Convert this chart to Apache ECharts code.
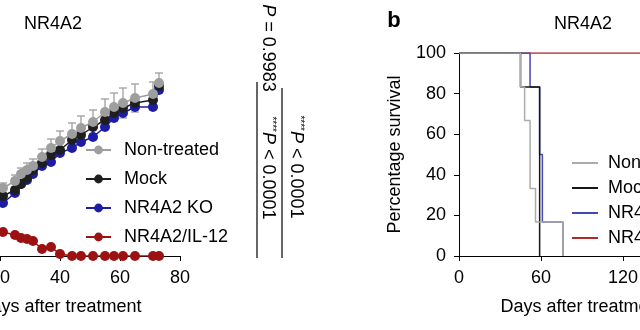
<!DOCTYPE html>
<html><head><meta charset="utf-8">
<script src="https://cdn.jsdelivr.net/npm/echarts@6/dist/echarts.min.js"></script>
<style>html,body{margin:0;padding:0;background:#fff;}#a,#b{position:absolute;left:0;top:0;width:640px;height:330px;}</style>
</head><body>
<div id="a"></div><div id="b"></div>
<script>
const FONT = "'Liberation Sans', Arial, Helvetica, sans-serif";
// ---- Panel a: tumour growth (days after treatment) ----
const seriesNames = ['Non-treated', 'Mock', 'NR4A2 KO', 'NR4A2/IL-12'];
const growthDays = [21, 25, 27, 29, 31, 34, 37, 40, 44, 47, 51, 55, 58, 61, 65, 71, 73];
const nonTreated = [680, 750, 820, 860, 900, 990, 1080, 1150, 1220, 1280, 1340, 1440, 1490, 1530, 1580, 1620, 1730];
const nonTreatedErr = [50, 60, 60, 70, 70, 80, 90, 100, 110, 120, 120, 130, 140, 150, 140, 120, 100];
const mock = [600, 660, 720, 780, 860, 930, 1010, 1060, 1160, 1210, 1290, 1360, 1430, 1480, 1530, 1560, 1700];
const nr4a2KO = [530, 630, 720, 760, 820, 900, 940, 1030, 1080, 1140, 1190, 1290, 1380, 1430, 1490, 1490, 1660];
const nr4a2IL12 = [240, 210, 180, 170, 150, 70, 90, 20, 0, 0, 0, 0, 0, 0, 0, 0, 0];
const growthXTicks = {min: 0, max: 80, interval: 20};
// ---- Panel b: survival (%) ----
const survNonTreated = [[0, 100], [45, 83.3], [48, 66.7], [52, 33.3], [56, 16.7], [76, 0]];
const survMock = [[0, 100], [45, 83.3], [59, 0]];
const survKO = [[0, 100], [52, 83.3], [59, 50], [61, 16.7], [76, 0]];
const survIL12 = [[0, 100], [180, 100]];
const survXTicks = {min: 0, max: 180, interval: 60};
const survYTicks = {min: 0, max: 100, interval: 20};

const colA = {nt: '#9e9e9e', mock: '#1e1e1e', ko: '#1c1ca4', il: '#9c1212'};
const colB = {nt: '#ababab', mock: '#161616', ko: '#4646b4', il: '#b02a2a'};
const txt = {color: '#000', fontFamily: FONT, fontSize: 18};

function pairs(ys) { return growthDays.map((d, i) => [d, ys[i]]); }
function lineSeries(name, ys, color) {
  return {type: 'line', name: name, data: pairs(ys), symbol: 'circle', symbolSize: 10,
    itemStyle: {color: color}, lineStyle: {color: color, width: 1.5}, animation: false};
}

const chartA = echarts.init(document.getElementById('a'), null, {renderer: 'canvas'});
chartA.setOption({
  animation: false,
  grid: {left: -60, right: 460, top: 56, bottom: 74, outerBoundsMode: 'none', containLabel: false},
  xAxis: {type: 'value', min: growthXTicks.min, max: growthXTicks.max, interval: growthXTicks.interval,
    name: 'Days after treatment', nameLocation: 'middle', nameGap: 42, nameTextStyle: txt,
    axisLine: {lineStyle: {color: '#000', width: 1}}, axisTick: {length: 5, lineStyle: {color: '#000'}},
    axisLabel: Object.assign({margin: 13}, txt), splitLine: {show: false}},
  yAxis: {type: 'value', min: 0, max: 2000, show: false, splitLine: {show: false}},
  legend: {orient: 'vertical', left: 85, top: 141, padding: 0, itemWidth: 25, itemHeight: 11, itemGap: 11,
    selectedMode: false, data: seriesNames, textStyle: Object.assign({padding: [0, 0, 0, 8]}, txt)},
  series: [
    lineSeries(seriesNames[2], nr4a2KO, colA.ko),
    lineSeries(seriesNames[1], mock, colA.mock),
    {type: 'custom', name: 'Non-treated SEM', data: growthDays.map((d, i) => [d, nonTreated[i], nonTreatedErr[i]]),
      encode: {x: 0, y: 1}, z: 3,
      renderItem: function (params, api) {
        const x = api.value(0), m = api.value(1), e = api.value(2);
        const t = api.coord([x, m + e]), b = api.coord([x, m - e]);
        const st = {stroke: colA.nt, lineWidth: 1.3};
        return {type: 'group', children: [
          {type: 'line', shape: {x1: t[0], y1: t[1], x2: b[0], y2: b[1]}, style: st},
          {type: 'line', shape: {x1: t[0] - 4, y1: t[1], x2: t[0] + 4, y2: t[1]}, style: st},
          {type: 'line', shape: {x1: b[0] - 4, y1: b[1], x2: b[0] + 4, y2: b[1]}, style: st}
        ]};
      }},
    lineSeries(seriesNames[0], nonTreated, colA.nt),
    lineSeries(seriesNames[3], nr4a2IL12, colA.il)
  ],
  graphic: [
    {type: 'text', x: 53, y: 24, style: {text: 'NR4A2', font: '18px ' + FONT, fill: '#000', align: 'center', verticalAlign: 'middle'}},
    {type: 'line', shape: {x1: 257, y1: 82, x2: 257, y2: 258}, style: {stroke: '#000', lineWidth: 1.2}},
    {type: 'line', shape: {x1: 282, y1: 88, x2: 282, y2: 258}, style: {stroke: '#000', lineWidth: 1.2}},
    {type: 'text', x: 268, y: 48, rotation: -Math.PI / 2,
      style: {text: '{i|P} = 0.9983', align: 'center', verticalAlign: 'middle', fill: '#000', font: '18px ' + FONT,
        rich: {i: {fontStyle: 'italic', fontSize: 18, fontFamily: FONT}}}},
    {type: 'text', x: 268, y: 168, rotation: -Math.PI / 2,
      style: {text: '{s|****}{i|P} < 0.0001', align: 'center', verticalAlign: 'middle', fill: '#000', font: '18px ' + FONT,
        rich: {s: {fontSize: 10, fontFamily: FONT, verticalAlign: 'top', lineHeight: 10}, i: {fontStyle: 'italic', fontSize: 18, fontFamily: FONT}}}},
    {type: 'text', x: 296, y: 167, rotation: -Math.PI / 2,
      style: {text: '{s|****}{i|P} < 0.0001', align: 'center', verticalAlign: 'middle', fill: '#000', font: '18px ' + FONT,
        rich: {s: {fontSize: 10, fontFamily: FONT, verticalAlign: 'top', lineHeight: 10}, i: {fontStyle: 'italic', fontSize: 18, fontFamily: FONT}}}}
  ]
});

function stepSeries(name, data, color) {
  return {type: 'line', name: name, data: data, step: 'end', symbol: 'none', showSymbol: false,
    itemStyle: {color: color}, lineStyle: {color: color, width: 1.5}, animation: false};
}
const chartB = echarts.init(document.getElementById('b'), null, {renderer: 'canvas'});
chartB.setOption({
  animation: false,
  grid: {left: 459, right: -65, top: 53, bottom: 74, outerBoundsMode: 'none', containLabel: false},
  xAxis: {type: 'value', min: survXTicks.min, max: survXTicks.max, interval: survXTicks.interval,
    name: 'Days after treatment', nameLocation: 'middle', nameGap: 42, nameTextStyle: txt,
    axisLine: {onZero: false, lineStyle: {color: '#000', width: 1}}, axisTick: {length: 5, lineStyle: {color: '#000'}},
    axisLabel: Object.assign({margin: 13}, txt), splitLine: {show: false}},
  yAxis: {type: 'value', min: survYTicks.min, max: survYTicks.max, interval: survYTicks.interval,
    name: 'Percentage survival', nameLocation: 'middle', nameGap: 55, nameTextStyle: txt,
    axisLine: {show: true, lineStyle: {color: '#000', width: 1}}, axisTick: {show: true, length: 5, lineStyle: {color: '#000'}},
    axisLabel: Object.assign({margin: 13}, txt), splitLine: {show: false}},
  legend: {orient: 'vertical', left: 572, top: 154, padding: 0, itemWidth: 26, itemHeight: 2, itemGap: 7, icon: 'rect',
    selectedMode: false, data: seriesNames, textStyle: Object.assign({padding: [0, 0, 0, 5]}, txt)},
  series: [
    stepSeries(seriesNames[3], survIL12, colB.il),
    stepSeries(seriesNames[2], survKO, colB.ko),
    stepSeries(seriesNames[1], survMock, colB.mock),
    stepSeries(seriesNames[0], survNonTreated, colB.nt)
  ],
  graphic: [
    {type: 'text', x: 583, y: 24, style: {text: 'NR4A2', font: '18px ' + FONT, fill: '#000', align: 'center', verticalAlign: 'middle'}},
    {type: 'text', x: 394, y: 21, style: {text: 'b', font: 'bold 22px ' + FONT, fill: '#000', align: 'center', verticalAlign: 'middle'}}
  ]
});
</script>
</body></html>
